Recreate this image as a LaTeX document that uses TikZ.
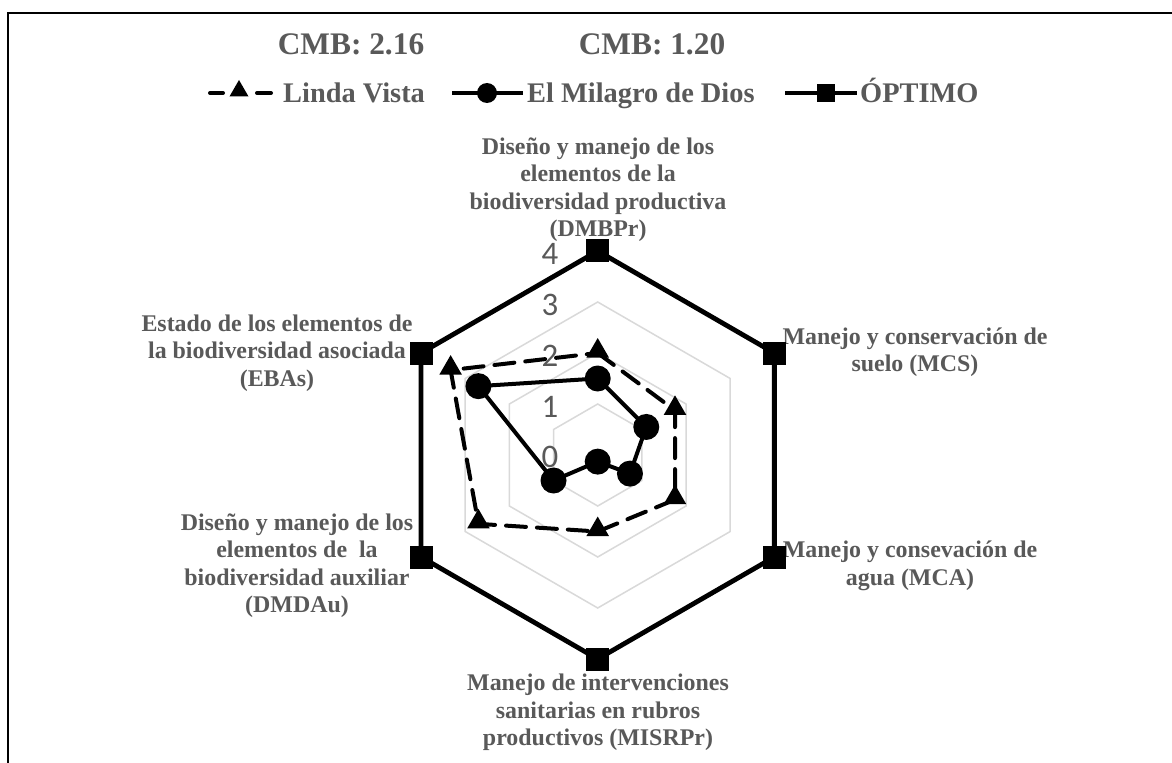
\documentclass[tikz,border=0pt]{standalone}
\usepackage{fontspec}
\setmainfont{Liberation Serif}
\newfontfamily\numfont{Carlito}
\usetikzlibrary{shapes.geometric}
\definecolor{txtgrey}{HTML}{595959}
\definecolor{gridgrey}{HTML}{D9D9D9}
\begin{document}
\begin{tikzpicture}[x=1bp,y=1bp,
  lbl/.style={text=txtgrey, font=\bfseries\fontsize{24}{27.6}\selectfont, align=center, inner sep=0pt},
  leg/.style={text=txtgrey, font=\bfseries\fontsize{28.5}{32}\selectfont, inner sep=0pt, anchor=base west},
  cmb/.style={text=txtgrey, font=\bfseries\fontsize{31.5}{34}\selectfont, inner sep=0pt, anchor=base},
  axnum/.style={text=txtgrey, font=\numfont\fontsize{33}{34}\selectfont, inner sep=0pt},
  gridline/.style={draw=gridgrey, line width=1.5bp},
  optline/.style={draw=black, line width=4.8bp, line join=miter},
  milline/.style={draw=black, line width=4bp, line join=round},
  lvline/.style={draw=black, line width=4bp, dash pattern=on 20bp off 11bp, line cap=round, line join=round},
  legseg/.style={draw=black, line width=4bp, line cap=round},
  sqmark/.style={fill=black, rectangle, minimum size=23bp, inner sep=0pt},
  cirmark/.style={fill=black, circle, minimum size=26bp, inner sep=0pt},
  trimark/.style={fill=black, regular polygon, regular polygon sides=3, minimum size=26bp, inner sep=0pt, yshift=2bp},
  framel/.style={draw=black, line width=2bp},
]
\useasboundingbox (0,0) rectangle (1172,-763);
\fill[white] (0,0) rectangle (1172,-763);
% frame
\coordinate (fa) at (7.5,-763);
\coordinate (fb) at (7.5,-13.5);
\coordinate (fc) at (1172,-13.5);
\draw[framel] (fa) -- (fb) -- (fc);

% CMB titles
\node[cmb] (cmb1) at (351,-55) {CMB: 2.16};
\node[cmb] (cmb2) at (652,-55) {CMB: 1.20};

% legend
\coordinate (la) at (210,-93);
\coordinate (lb) at (223,-93);
\coordinate (lc) at (257,-93);
\coordinate (ld) at (271,-93);
\draw[legseg] (la) -- (lb);
\draw[legseg] (lc) -- (ld);
\node[trimark, minimum size=22bp] (legtri) at (239,-93) {};
\node[leg] (leglv) at (283,-102.5) {Linda Vista};
\coordinate (lm1) at (452,-93);
\coordinate (lm2) at (523,-93);
\draw[milline] (lm1) -- (lm2);
\node[cirmark, minimum size=20bp] (legcir) at (487,-93) {};
\node[leg] (legmil) at (527,-102.5) {El Milagro de Dios};
\coordinate (lo1) at (785,-93);
\coordinate (lo2) at (857,-93);
\draw[optline] (lo1) -- (lo2);
\node[sqmark, minimum size=18bp] (legsq) at (826,-93) {};
\node[leg] (legopt) at (860,-102.5) {ÓPTIMO};

% axis labels
\node[lbl] (axtop) at (598,-189.5) {Diseño y manejo de los\\elementos de la\\biodiversidad productiva\\(DMBPr)};
\node[lbl] (axmcs) at (915,-352) {Manejo y conservación de\\suelo (MCS)};
\node[lbl] (axmca) at (910,-566) {Manejo y consevación de\\agua (MCA)};
\node[lbl] (axmis) at (598,-712.5) {Manejo de intervenciones\\sanitarias en rubros\\productivos (MISRPr)};
\node[lbl] (axdmd) at (297,-565.5) {Diseño y manejo de los\\elementos de \ la\\biodiversidad auxiliar\\(DMDAu)};
\node[lbl] (axeba) at (277,-353) {Estado de los elementos de\\la biodiversidad asociada\\(EBAs)};

\begin{scope}[shift={(597.7,-455)}, x=51bp, y=51bp]
  % grid
  \foreach \r in {1,2,3}
    \draw[gridline] (90:\r) -- (30:\r) -- (-30:\r) -- (-90:\r) -- (210:\r) -- (150:\r) -- cycle;
\end{scope}

% scale numbers
\node[axnum] (n0) at (550,-457) {0};
\node[axnum] (n1) at (550,-407) {1};
\node[axnum] (n2) at (550,-356) {2};
\node[axnum] (n3) at (550,-305) {3};
\node[axnum] (n4) at (550,-254) {4};

\begin{scope}[shift={(597.7,-455)}, x=51bp, y=51bp]
  % data coordinates
  \coordinate (lv1) at (90:2.0);
  \coordinate (lv2) at (30:1.75);
  \coordinate (lv3) at (-30:1.75);
  \coordinate (lv4) at (-90:1.5);
  \coordinate (lv5) at (210:2.7);
  \coordinate (lv6) at (150:3.33);
  \coordinate (mi1) at (90:1.5);
  \coordinate (mi2) at (30:1.1);
  \coordinate (mi3) at (-30:0.73);
  \coordinate (mi4) at (-90:0.13);
  \coordinate (mi5) at (210:1.0);
  \coordinate (mi6) at (150:2.7);
  \coordinate (op1) at (90:4);
  \coordinate (op2) at (30:4);
  \coordinate (op3) at (-30:4);
  \coordinate (op4) at (-90:4);
  \coordinate (op5) at (210:4);
  \coordinate (op6) at (150:4);
\end{scope}

% Linda Vista
\draw[lvline] (lv1) -- (lv2) -- (lv3) -- (lv4) -- (lv5) -- (lv6) -- cycle;
\foreach \i in {1,...,6} \node[trimark] (lvm\i) at (lv\i) {};
% El Milagro de Dios
\draw[milline] (mi1) -- (mi2) -- (mi3) -- (mi4) -- (mi5) -- (mi6) -- cycle;
\foreach \i in {1,...,6} \node[cirmark] (mim\i) at (mi\i) {};
% OPTIMO
\draw[optline] (op1) -- (op2) -- (op3) -- (op4) -- (op5) -- (op6) -- cycle;
\foreach \i in {1,...,6} \node[sqmark] (opm\i) at (op\i) {};
\end{tikzpicture}
\end{document}
